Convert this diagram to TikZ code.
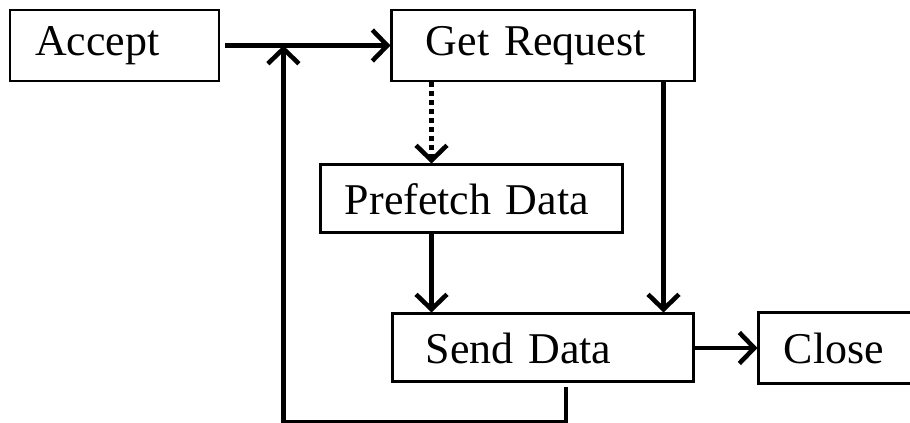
\documentclass[tikz,border=0pt]{standalone}
\usepackage{fontspec}
\setmainfont{Liberation Serif}
\usetikzlibrary{positioning,arrows.meta}
\begin{document}
\begin{tikzpicture}[blk/.style = {draw, line width=1.7pt, minimum height=1.42cm, inner ysep=0pt, align=left, font=\fontsize{25}{30}\selectfont},
		arr/.style = {line width=2.6pt, -{Straight Barb[length=0.3cm, width=0.62cm]}}]
		\useasboundingbox (0,0) rectangle (18.2,-8.46);
		\clip (0,0) rectangle (18.2,-8.46);
		\node[blk, inner xsep=0.5cm, text width=3.18cm] (acc) at (2.29,-0.91) {Accept};
		\node[blk, inner xsep=0.68cm, text width=4.7cm] (get) [right=3.4cm of acc] {Get Request};
		\node[blk, inner xsep=0.48cm, text width=5.08cm, minimum height=1.36cm] (pre) [below left=1.62cm and 1.42cm of get.south west, anchor=north west] {Prefetch Data};
		\node[blk, inner xsep=0.66cm, text width=4.7cm, minimum height=1.36cm] (send) [below=4.6cm of get] {Send Data};
		\node[blk, inner xsep=0.5cm, text width=4cm] (close) [right=1.24cm of send] {Close};
		\coordinate (dotx) at ([xshift=0.82cm]get.south west);
		\coordinate (rgtx) at ([xshift=-0.66cm]get.south east);
		\path (acc.east) -- (get.west) coordinate[pos=0.37] (join);
		\draw[arr, shorten <=0.1cm] (acc.east) -- (get.west);
		\draw[arr, dash pattern=on 0.1cm off 0.08cm] (dotx) -- (pre.north -| dotx);
		\draw[arr] (pre.south -| dotx) -- (send.north -| dotx);
		\draw[arr] (rgtx) -- (send.north -| rgtx);
		\draw[arr] (send.east) -- (close.west);
		\draw[arr, shorten <=0.08cm] ([xshift=0.45cm]send.south) -- ++(0,-0.78) -| (join);
	\end{tikzpicture}
\end{document}
